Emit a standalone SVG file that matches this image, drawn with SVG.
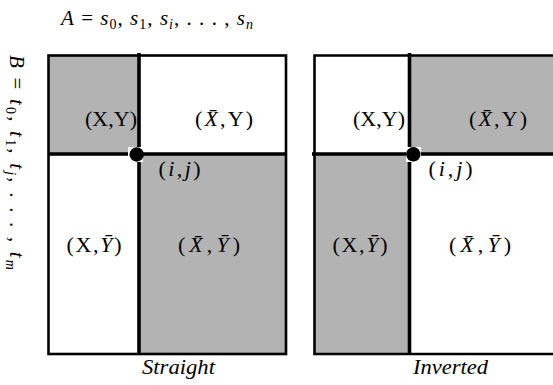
<svg xmlns="http://www.w3.org/2000/svg" width="553" height="385" viewBox="0 0 553 385">
<style>
text,tspan{font-family:"Liberation Serif","Times New Roman",serif;fill:#000}
.lbl{font-size:22px;text-anchor:middle}
.it{font-style:italic}
.gray{fill:#b3b3b3}
.border{fill:none;stroke:#000;stroke-width:2.6}
.div{stroke:#000;stroke-width:3.6;fill:none}
.dot{fill:#000}
.mask{fill:#fff}
</style>
<rect width="553" height="385" fill="#fff"/>
<text id="axisA" x="61" y="25" font-size="21" textLength="192"><tspan class="it">A</tspan> = <tspan class="it">s</tspan><tspan font-size="14" dy="4">0</tspan><tspan dy="-4">, </tspan><tspan class="it">s</tspan><tspan font-size="14" dy="4">1</tspan><tspan dy="-4">, </tspan><tspan class="it">s</tspan><tspan font-size="14" class="it" dy="4">i</tspan><tspan dy="-4">, . . . , </tspan><tspan class="it">s</tspan><tspan font-size="14" class="it" dy="4">n</tspan></text>
<text id="axisB" transform="translate(10,55) rotate(90)" font-size="21" textLength="215"><tspan class="it">B</tspan> = <tspan class="it">t</tspan><tspan font-size="14" dy="4">0</tspan><tspan dy="-4">, </tspan><tspan class="it">t</tspan><tspan font-size="14" dy="4">1</tspan><tspan dy="-4">, </tspan><tspan class="it">t</tspan><tspan font-size="14" class="it" dy="4">j</tspan><tspan dy="-4">, . . . , </tspan><tspan class="it">t</tspan><tspan font-size="14" class="it" dy="4">m</tspan></text>
<g id="straight">
<rect class="gray" x="48" y="55" width="91" height="99"/>
<rect class="gray" x="139" y="154" width="147" height="200"/>
<rect class="border" x="48.5" y="55.5" width="237.5" height="298.5"/>
<text class="lbl" x="111" y="126">(X,Y)</text>
<text class="lbl" x="224" y="126" textLength="58">(<tspan class="it">X̄</tspan>,Y)</text>
<text class="lbl" x="94" y="252" textLength="55">(X,<tspan class="it">Ȳ</tspan>)</text>
<text class="lbl" x="209" y="252" textLength="62">(<tspan class="it">X̄</tspan>,<tspan class="it">Ȳ</tspan>)</text>
<text class="lbl" x="179.5" y="176" textLength="42">(<tspan class="it">i</tspan>,<tspan class="it">j</tspan>)</text>
<text class="it" x="178.5" y="374" font-size="21" text-anchor="middle" textLength="73" lengthAdjust="spacingAndGlyphs">Straight</text>
</g>
<g id="inverted">
<rect class="gray" x="409.5" y="55" width="144" height="99"/>
<rect class="gray" x="314" y="154" width="95.5" height="200"/>
<path class="border" d="M553,55.5 H314.5 V354 H553"/>
<text class="lbl" x="379" y="126">(X,Y)</text>
<text class="lbl" x="498" y="126" textLength="58">(<tspan class="it">X̄</tspan>,Y)</text>
<text class="lbl" x="360" y="252" textLength="55">(X,<tspan class="it">Ȳ</tspan>)</text>
<text class="lbl" x="480" y="252" textLength="62">(<tspan class="it">X̄</tspan>,<tspan class="it">Ȳ</tspan>)</text>
<text class="lbl" x="450.5" y="176" textLength="44">(<tspan class="it">i</tspan>,<tspan class="it">j</tspan>)</text>
<text class="it" x="450.5" y="374" font-size="21" text-anchor="middle" textLength="75" lengthAdjust="spacingAndGlyphs">Inverted</text>
</g>
<g id="connectors">
<path class="div" d="M139,53 V354 M48,154 H286"/>
<path class="div" d="M409.5,53 V354 M312,154 H553"/>
</g>
<g id="point-straight">
<rect class="mask" x="128" y="147" width="15" height="15"/>
<circle class="dot" cx="136.7" cy="154.5" r="7.2"/>
</g>
<g id="point-inverted">
<rect class="mask" x="406" y="147" width="15" height="15"/>
<circle class="dot" cx="413.3" cy="154.3" r="7.2"/>
</g>
</svg>
